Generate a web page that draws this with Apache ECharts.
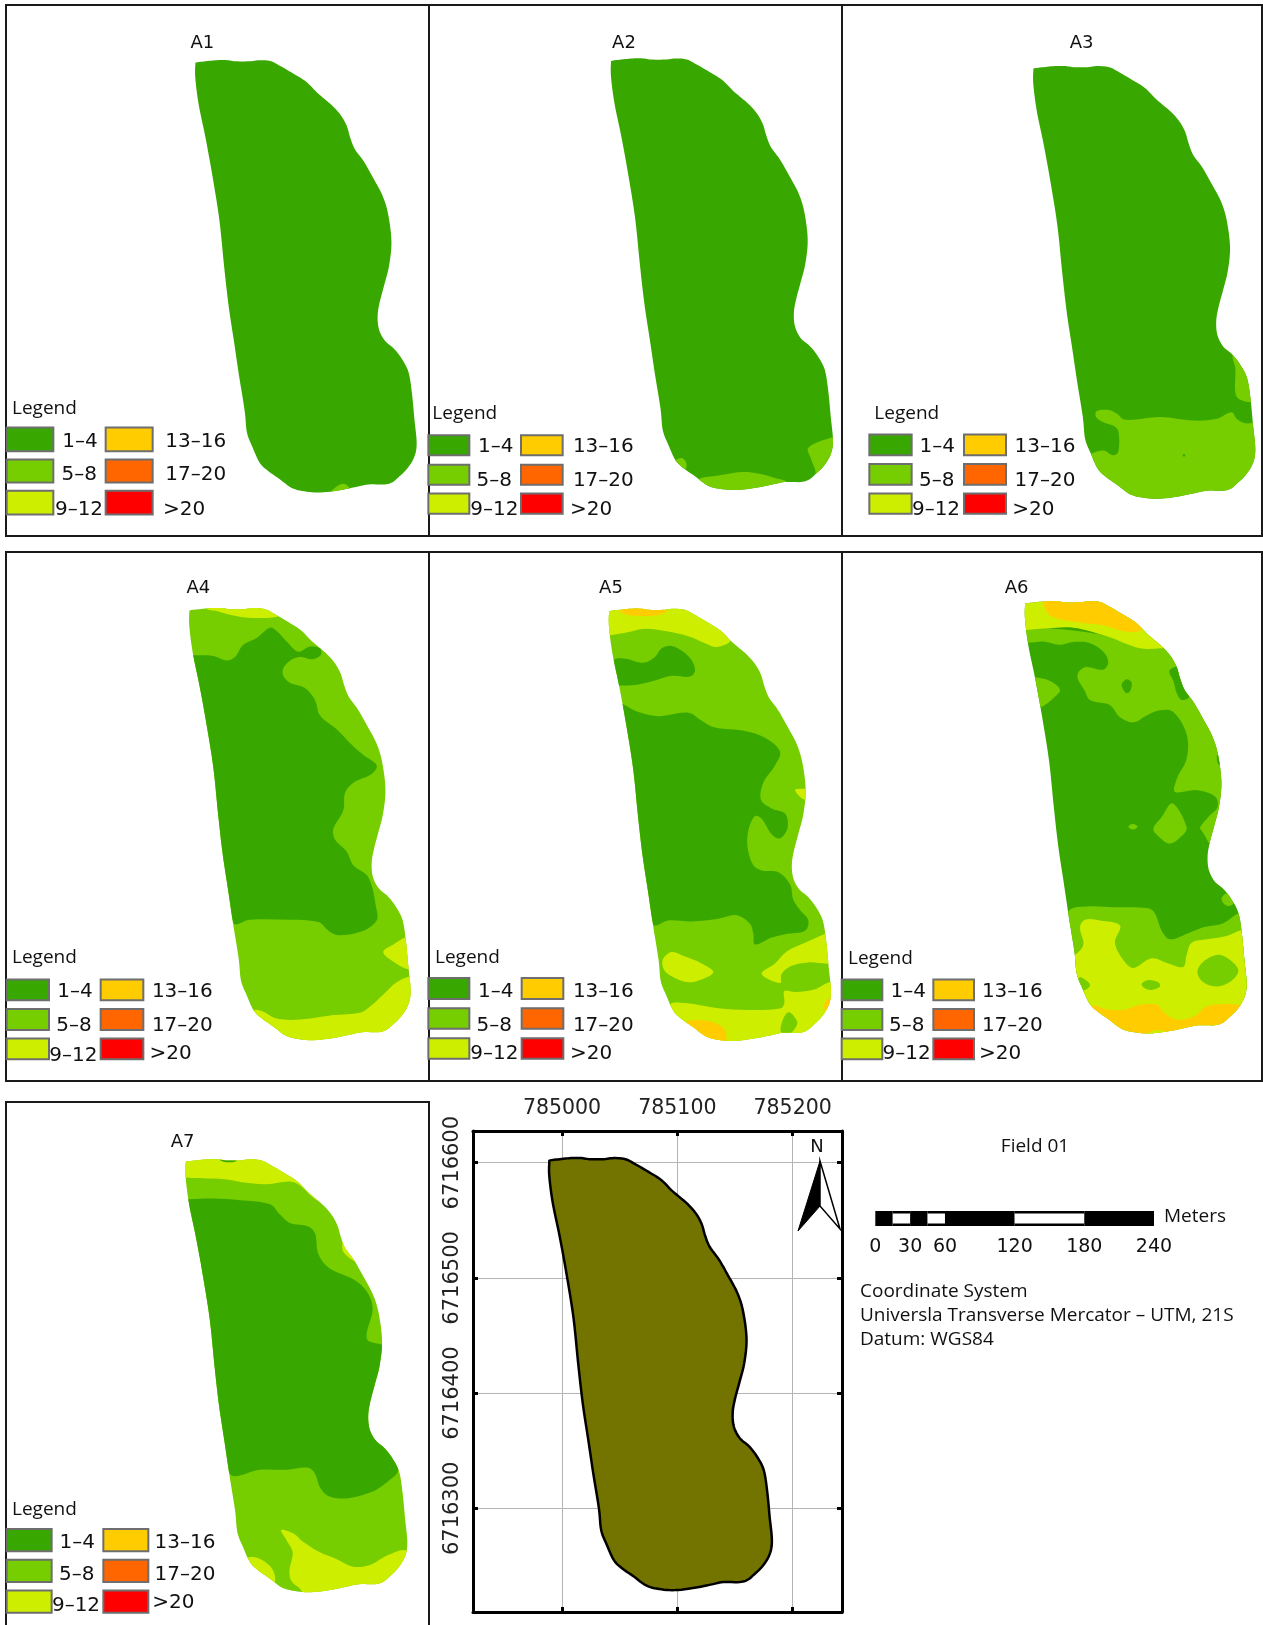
<!DOCTYPE html>
<html><head><meta charset="utf-8">
<style>html,body{margin:0;padding:0;background:#fff}#c{width:1263px;height:1625px}</style>
<script src="https://cdn.jsdelivr.net/npm/echarts@6/dist/echarts.min.js"></script>
</head><body><div id="c"></div>
<script>
// ---------- categories ----------
const BANDS = ['1–4','5–8','9–12','13–16','17–20','>20'];
const BAND_COLORS = ['#38A800','#76CD00','#CEEE00','#FFCC00','#FF6600','#FF0000'];
const REF_FILL = '#737300';
const EAST_TICKS = [785000,785100,785200];
const NORTH_TICKS = [6716300,6716400,6716500,6716600];
const SCALE_TICKS = [0,30,60,120,180,240];
const SCALE_FROM = [0,15,30,45,60,120,180];
const SCALE_TO   = [15,30,45,60,120,180,240];
// ---------- field boundary (UTM 21S, metres) ----------
const FIELD_E = [784989,784990,784998,785008,785017,785024,785036,785045,785055,785063,785075,785086,785095,785102,785109,785116,785121,785124,785128,785136,785144,785152,785157,785160,785158,785154,785150,785148,785149,785154,785162,785169,785175,785178,785180,785182,785180,785174,785167,785161,785154,785140,785130,785115,785098,785084,785073,785062,785052,785045,785039,785034,785032,785027,785023,785018,785014,785010,785004,784998,784992,784989];
const FIELD_N = [6716600,6716602,6716603,6716604,6716604,6716603,6716603,6716604,6716603,6716599,6716592,6716585,6716576,6716570,6716564,6716556,6716547,6716537,6716527,6716516,6716502,6716487,6716471,6716447,6716426,6716410,6716395,6716383,6716371,6716361,6716354,6716345,6716333,6716314,6716293,6716272,6716260,6716250,6716243,6716238,6716236,6716236,6716234,6716231,6716229,6716230,6716233,6716241,6716248,6716255,6716268,6716281,6716300,6716331,6716358,6716391,6716426,6716465,6716503,6716536,6716565,6716588];
// ---------- zones per map: [band index, x,y, x,y ...] in each map's panel units ----------
const ZONES_A1 = [[1, 985,1425,1005,1403,1030,1392,1047,1402,1050,1425]];
const ZONES_A2 = [
 [1, 820,1378,880,1368,950,1358,1000,1362,1050,1375,1085,1388,1060,1425,850,1435,805,1395],
 [1, 1150,1288,1225,1258,1245,1260,1245,1340,1175,1365,1170,1350,1158,1320],
 [1, 752,1325,770,1318,783,1330,782,1350,765,1352,740,1340]];
const ZONES_A3 = [
 [1, 740,1315,755,1305,790,1296,820,1310,835,1300,835,1240,820,1225,790,1215,768,1200,770,1183,810,1180,830,1190,855,1208,960,1200,1060,1210,1130,1205,1175,1186,1190,1205,1215,1218,1265,1218,1275,1320,1250,1460,950,1465,760,1420],
 [1, 1178,1020,1186,1060,1186,1130,1200,1150,1245,1152,1245,1060,1200,1005],
 [0, 1028,1310,1032,1306,1036,1310,1032,1314]];
const ZONES_A4 = [
 [0, 582,320,640,322,680,335,705,325,730,290,770,270,810,240,830,250,860,280,895,310,930,295,960,300,962,320,935,332,905,325,880,330,855,350,848,375,870,400,915,415,945,450,960,495,1010,535,1050,575,1090,610,1130,640,1115,665,1060,690,1035,720,1030,770,1000,825,1005,855,1040,890,1060,930,1105,965,1130,1060,1130,1090,1090,1120,1015,1133,985,1120,955,1095,860,1088,750,1088,700,1097,640,800,600,500,560,320],
 [2, 620,185,650,192,700,205,760,212,838,205,800,170,640,165],
 [2, 1215,1140,1180,1160,1150,1180,1165,1200,1230,1232,1255,1200,1245,1130],
 [2, 765,1350,790,1355,830,1375,900,1378,1000,1365,1080,1358,1110,1340,1150,1305,1190,1270,1232,1252,1255,1260,1240,1430,950,1465,770,1420,745,1370]];
const ZONES_A5 = [
 [2, 555,262,600,255,660,243,720,250,790,265,840,285,875,296,915,278,880,240,800,165,545,165,535,262],
 [3, 585,193,610,180,660,180,725,190,700,203,620,205],
 [0, 565,335,600,330,655,342,690,325,710,300,740,293,775,310,800,335,810,365,795,382,740,380,695,392,640,405,585,408,540,400],
 [0, 595,463,640,485,700,497,790,487,830,510,870,530,960,540,1020,560,1065,600,1050,640,1015,690,1008,740,1040,765,1080,780,1088,820,1065,852,1040,840,1010,795,990,787,970,830,968,880,985,930,1010,945,1060,950,1095,985,1105,1030,1125,1060,1150,1090,1140,1120,1080,1130,1040,1140,990,1160,985,1130,975,1100,935,1075,880,1085,800,1093,730,1090,685,1102,640,900,575,460],
 [2, 1198,1130,1140,1155,1085,1180,1050,1215,1010,1245,1065,1272,1070,1245,1100,1222,1150,1212,1215,1215,1245,1200,1235,1120],
 [2, 1078,1295,1110,1298,1170,1290,1218,1270,1245,1300,1240,1460,900,1465,745,1410,735,1335,780,1330,880,1345,970,1350,1068,1345,1078,1330],
 [1, 1068,1415,1075,1375,1092,1357,1115,1380,1115,1395,1095,1418],
 [3, 785,1385,830,1380,875,1390,900,1410,900,1450,850,1445,800,1410],
 [3, 1198,1335,1208,1318,1228,1320,1212,1350,1200,1350],
 [2, 713,1205,740,1182,780,1195,830,1215,865,1240,830,1262,790,1270,745,1255,718,1235],
 [2, 1110,712,1125,708,1155,712,1155,735,1135,738]];
const ZONES_A6 = [
 [1, 550,245,700,248,800,265,900,298,968,294,1035,340,1075,430,1130,520,1170,610,1180,690,1170,770,1125,880,1085,830,1080,820,1110,785,1133,760,1125,730,1070,712,1005,717,1010,680,1040,620,1040,550,1000,485,960,480,920,495,880,515,840,500,810,465,750,450,735,425,712,380,735,355,790,362,805,340,790,310,750,285,700,282,660,290,610,280,565,283,535,270],
 [0, 845,405,860,390,875,400,870,425,860,430,850,420],
 [0, 988,365,1015,355,1030,400,1048,440,1025,450,1010,430,1000,395],
 [0, 1132,610,1148,620,1148,640,1134,635],
 [1, 590,385,630,395,660,420,640,445,605,470,575,475,565,385],
 [1, 997,750,1040,820,1025,845,990,867,960,850,940,825,965,790],
 [1, 865,818,878,810,893,818,878,826],
 [1, 685,1065,740,1050,820,1052,925,1055,945,1070,965,1120,990,1145,1050,1125,1090,1110,1150,1098,1193,1070,1225,1060,1240,1300,700,1300,665,1200],
 [1, 1145,1025,1160,1012,1180,1040,1165,1048,1150,1040],
 [2, 545,240,600,243,700,240,800,265,900,300,960,300,975,295,900,190,800,145,535,145],
 [3, 615,160,618,190,640,210,720,225,800,235,860,252,905,245,870,205,800,155],
 [2, 705,1190,730,1160,720,1110,735,1088,780,1090,840,1105,825,1155,850,1205,880,1228,935,1200,985,1215,1030,1225,1040,1190,1055,1155,1100,1145,1160,1135,1205,1118,1245,1115,1245,1320,1200,1455,800,1455,725,1300,705,1260,685,1190],
 [1, 1072,1240,1090,1210,1135,1190,1170,1205,1195,1235,1175,1265,1130,1282,1090,1270],
 [1, 905,1275,925,1263,955,1270,960,1282,935,1292,915,1288],
 [1, 718,1255,735,1262,750,1278,735,1292,705,1292],
 [3, 755,1338,800,1348,850,1350,900,1335,950,1335,975,1360,1010,1378,1060,1370,1100,1340,1150,1333,1200,1335,1255,1340,1200,1455,800,1455,735,1370],
 [2, 920,1420,945,1410,975,1412,950,1430]];
const ZONES_A7 = [
 [0, 565,320,640,318,720,323,810,335,840,365,870,390,925,400,945,420,955,480,985,520,1060,555,1100,590,1118,640,1100,715,1105,735,1155,752,1175,800,1155,900,1135,1000,1195,1110,1160,1150,1110,1180,1040,1197,985,1190,960,1165,945,1125,925,1107,860,1113,780,1113,690,1125,640,900,600,500,540,320],
 [2, 545,250,600,258,680,262,740,272,800,276,870,268,900,280,945,320,965,320,880,225,800,185,540,185],
 [0, 660,205,680,212,710,208,690,200],
 [2, 1030,445,1068,502,1045,490,1028,470],
 [2, 843,1290,880,1300,910,1325,960,1355,1010,1375,1060,1397,1110,1392,1160,1365,1220,1350,1245,1400,1180,1490,930,1495,900,1462,875,1440,868,1410,878,1355,860,1320],
 [2, 745,1370,775,1372,810,1395,825,1425,820,1450,760,1435,725,1380]];
// ---------- layout ----------
const FW = 3, SERIF = 'DejaVu Sans', HUM = 'Open Sans';
const MAPS = [
 {name:'A1',zones:ZONES_A1,base:0,ox:0,oy:0,w:430,h:545,box:[586,1250,173,1417],title:[607,120],lg:{x:36,y:1172,c1:[20,160],c2:[317,458],r:[[1230,1298],[1322,1388],[1412,1480]],t:[[240,1265],[238,1360],[237,1460],[587,1265],[587,1360],[552,1460]]}},
 {name:'A2',zones:ZONES_A2,base:0,ox:425,oy:0,w:430,h:545,box:[558,1224,168,1410],title:[597,120],lg:{x:22,y:1187,c1:[10,133],c2:[288,413],r:[[1252,1310],[1337,1395],[1420,1478]],t:[[212,1280],[208,1378],[208,1460],[535,1280],[535,1378],[498,1460]]}},
 {name:'A3',zones:ZONES_A3,base:0,ox:840,oy:0,w:423,h:545,box:[580,1246,190,1435],title:[725,120],lg:{x:103,y:1187,c1:[88,215],c2:[372,498],r:[[1250,1310],[1335,1395],[1420,1478]],t:[[292,1280],[290,1378],[288,1460],[615,1280],[615,1378],[580,1460]]}},
 {name:'A4',zones:ZONES_A4,base:1,ox:0,oy:545,w:430,h:540,box:[568,1232,183,1438],title:[595,120],lg:{x:36,y:1195,c1:[20,147],c2:[302,430],r:[[1262,1322],[1347,1408],[1433,1493]],t:[[225,1293],[222,1390],[220,1477],[547,1293],[547,1390],[512,1473]]}},
 {name:'A5',zones:ZONES_A5,base:1,ox:425,oy:545,w:430,h:540,box:[552,1218,185,1440],title:[558,120],lg:{x:30,y:1195,c1:[10,133],c2:[290,415],r:[[1257,1318],[1345,1405],[1432,1492]],t:[[212,1293],[208,1390],[208,1473],[535,1293],[535,1390],[498,1473]]}},
 {name:'A6',zones:ZONES_A6,base:0,ox:840,oy:545,w:423,h:540,box:[555,1220,163,1418],title:[530,120],lg:{x:24,y:1197,c1:[5,127],c2:[280,402],r:[[1262,1322],[1347,1408],[1433,1493]],t:[[205,1293],[200,1390],[200,1473],[517,1293],[517,1390],[480,1473]]}},
 {name:'A7',zones:ZONES_A7,base:1,ox:0,oy:1090,w:430,h:535,box:[557,1222,203,1472],title:[548,148],lg:{x:36,y:1227,c1:[20,155],c2:[310,445],r:[[1287,1352],[1377,1442],[1467,1532]],t:[[232,1320],[230,1415],[228,1505],[555,1320],[555,1415],[520,1498]]}}
];
const eMin=Math.min(...FIELD_E),eMax=Math.max(...FIELD_E),nMin=Math.min(...FIELD_N),nMax=Math.max(...FIELD_N);
const SM=0.35;
function outlineFor(m){return FIELD_E.map((e,i)=>[m.box[0]+(e-eMin)/(eMax-eMin)*(m.box[1]-m.box[0]), m.box[2]+(nMax-FIELD_N[i])/(nMax-nMin)*(m.box[3]-m.box[2])]);}
// closed Catmull-Rom curve through the already projected pixel points, for drawing only
function curve(P){const n=P.length,out=[];for(let i=0;i<n;i++){const a=P[(i-1+n)%n],b=P[i],c=P[(i+1)%n],d=P[(i+2)%n];
  for(let k=0;k<6;k++){const t=k/6,t2=t*t,t3=t2*t;
    out.push([0.5*(2*b[0]+(c[0]-a[0])*t+(2*a[0]-5*b[0]+4*c[0]-d[0])*t2+(3*b[0]-a[0]-3*c[0]+d[0])*t3),
              0.5*(2*b[1]+(c[1]-a[1])*t+(2*a[1]-5*b[1]+4*c[1]-d[1])*t2+(3*b[1]-a[1]-3*c[1]+d[1])*t3)]);}}
  return out;}

const grids=[],xAxes=[],yAxes=[],series=[];
const hiddenAxis=(min,max,inv)=>({type:'value',min,max,inverse:!!inv,show:false,scale:true,splitLine:{show:false}});
MAPS.forEach((m,gi)=>{
  grids.push({left:m.ox,top:m.oy,width:m.w,height:m.h});
  xAxes.push(Object.assign(hiddenAxis(0,m.w*FW),{gridIndex:gi}));
  yAxes.push(Object.assign(hiddenAxis(0,1568,true),{gridIndex:gi}));
  const outline=outlineFor(m);
  const items=[{k:'base',value:[0,0]}].concat(m.zones.map(z=>({k:'zone',z,value:[z[1],z[2]]})));
  series.push({type:'custom',name:m.name,xAxisIndex:gi,yAxisIndex:gi,coordinateSystem:'cartesian2d',clip:false,silent:true,
    data:items.map(d=>d.value),
    renderItem:(p,api)=>{
      const d=items[p.dataIndex];
      const op=curve(outline.map(q=>api.coord(q)));
      if(d.k==='base') return {type:'polygon',shape:{points:op},style:{fill:BAND_COLORS[m.base]}};
      const pts=[];for(let i=1;i<d.z.length;i+=2)pts.push(api.coord([d.z[i],d.z[i+1]]));
      return {type:'polygon',shape:{points:pts,smooth:SM},style:{fill:BAND_COLORS[d.z[0]]},clipPath:{type:'polygon',shape:{points:op}}};
    }});
  // legend swatches and labels
  const lg=m.lg;
  series.push({type:'custom',name:m.name+' legend',xAxisIndex:gi,yAxisIndex:gi,coordinateSystem:'cartesian2d',clip:false,silent:true,z:3,
    data:BANDS.map((b,i)=>[(i<3?lg.c1:lg.c2)[0],lg.r[i%3][0]]),
    renderItem:(p,api)=>{
      const i=p.dataIndex,c=i<3?lg.c1:lg.c2,r=lg.r[i%3];
      const a=api.coord([c[0],r[0]]),b=api.coord([c[1],r[1]]),t=api.coord(lg.t[i]);
      const ch=[{type:'rect',shape:{x:a[0],y:a[1],width:b[0]-a[0],height:b[1]-a[1]},style:{fill:BAND_COLORS[i],stroke:'#6e6e6e',lineWidth:2}},
        {type:'text',style:{text:BANDS[i],x:t[0],y:t[1]+2,font:'20px "'+SERIF+'"',fill:'#111',textAlign:'center',textVerticalAlign:'middle'}}];
      if(i===0){const l=api.coord([lg.x,lg.y]),h=api.coord(m.title);
        ch.push({type:'text',style:{text:'Legend',x:l[0],y:l[1]+1,font:'19px "'+HUM+'"',fill:'#111',textAlign:'left',textVerticalAlign:'middle'}});
        ch.push({type:'text',style:{text:m.name,x:h[0],y:h[1]+2,font:'18px "'+SERIF+'"',fill:'#111',textAlign:'center',textVerticalAlign:'middle'}});}
      return {type:'group',children:ch};
    }});
});
// reference map in UTM
const gR=grids.length;
grids.push({left:473,top:1131,width:369,height:481});
const tickStyle={show:true,inside:true,length:5,lineStyle:{color:'#000',width:3}};
const lineStyle={show:true,onZero:false,lineStyle:{color:'#000',width:3}};
const xMin=784922.8,xMax=785242.8,yMin=6716210,yMax=6716627.5;
xAxes.push({type:'value',gridIndex:gR,position:'top',min:xMin,max:xMax,scale:true,axisLine:lineStyle,
  axisTick:Object.assign({customValues:EAST_TICKS},tickStyle),
  axisLabel:{customValues:EAST_TICKS,margin:12,formatter:v=>String(v),color:'#222',fontFamily:SERIF,fontSize:20.5},
  splitLine:{show:true,lineStyle:{color:'#b4b4b4',width:1}}});
xAxes.push({type:'value',gridIndex:gR,position:'bottom',min:xMin,max:xMax,scale:true,axisLine:lineStyle,
  axisTick:Object.assign({customValues:EAST_TICKS},tickStyle),axisLabel:{show:false},splitLine:{show:false}});
yAxes.push({type:'value',gridIndex:gR,position:'left',min:yMin,max:yMax,scale:true,axisLine:lineStyle,
  axisTick:Object.assign({customValues:NORTH_TICKS},tickStyle),
  axisLabel:{customValues:NORTH_TICKS,margin:20,rotate:90,formatter:v=>String(v),verticalAlign:'middle',align:'center',color:'#222',fontFamily:SERIF,fontSize:21},
  splitLine:{show:true,lineStyle:{color:'#b4b4b4',width:1}}});
yAxes.push({type:'value',gridIndex:gR,position:'right',min:yMin,max:yMax,scale:true,axisLine:lineStyle,
  axisTick:Object.assign({customValues:NORTH_TICKS},tickStyle),axisLabel:{show:false},splitLine:{show:false}});
series.push({type:'custom',name:'Field 01',xAxisIndex:xAxes.length-2,yAxisIndex:yAxes.length-2,coordinateSystem:'cartesian2d',clip:false,silent:true,z:3,
  data:[[FIELD_E[0],FIELD_N[0]]],
  renderItem:(p,api)=>({type:'polygon',shape:{points:curve(FIELD_E.map((e,i)=>api.coord([e,FIELD_N[i]])))},style:{fill:REF_FILL,stroke:'#000',lineWidth:2.5}})});
// scale bar in metres
const gS=grids.length;
grids.push({left:875.3,top:1211,width:278.7,height:15});
xAxes.push({type:'value',gridIndex:gS,min:0,max:240,position:'bottom',axisLine:{show:false},axisTick:{show:false},splitLine:{show:false},
  axisLabel:{customValues:SCALE_TICKS,margin:12,color:'#111',fontFamily:SERIF,fontSize:19}});
yAxes.push({type:'value',gridIndex:gS,min:0,max:1,show:false,splitLine:{show:false}});
series.push({type:'custom',name:'Scale',xAxisIndex:xAxes.length-1,yAxisIndex:yAxes.length-1,coordinateSystem:'cartesian2d',clip:false,silent:true,
  data:SCALE_FROM.map((f,i)=>[f,1]),
  renderItem:(p,api)=>{const i=p.dataIndex,a=api.coord([SCALE_FROM[i],1]),b=api.coord([SCALE_TO[i],0]);
    const ch=[{type:'rect',shape:{x:a[0],y:a[1],width:b[0]-a[0],height:b[1]-a[1]},style:{fill:'#000'}}];
    if(i%2===1) ch.push({type:'rect',shape:{x:a[0],y:a[1]+2.5,width:b[0]-a[0],height:b[1]-a[1]-5},style:{fill:'#fff'}});
    return {type:'group',children:ch};}});

const frame=(x,y,w,h)=>({type:'rect',z:-1,silent:true,shape:{x,y,width:w,height:h},style:{fill:'none',stroke:'#1a1a1a',lineWidth:2}});
const txt=(text,x,y,align,size)=>({type:'text',silent:true,x,y,style:{text,font:size+'px "'+HUM+'"',fill:'#111',textAlign:align,textVerticalAlign:'middle'}});
const graphic=[
  frame(6,5,423,531),frame(429,5,413,531),frame(842,5,420,531),
  frame(6,552,423,529),frame(429,552,413,529),frame(842,552,420,529),
  frame(6,1102,423,560),
  {type:'polygon',silent:true,z:10,shape:{points:[[820,1161],[798,1231],[820,1206]]},style:{fill:'#000',stroke:'#000',lineWidth:1}},
  {type:'polygon',silent:true,z:10,shape:{points:[[820,1161],[840,1229],[820,1206]]},style:{fill:'#fff',stroke:'#000',lineWidth:1.5}},
  {type:'text',silent:true,z:10,x:817,y:1147,style:{text:'N',font:'18px "'+SERIF+'"',fill:'#111',textAlign:'center',textVerticalAlign:'middle'}},
  txt('Field 01',1035,1147,'center',19),
  txt('Meters',1164,1217,'left',19),
  txt('Coordinate System',860,1292,'left',19),
  txt('Universla Transverse Mercator – UTM, 21S',860,1316,'left',19),
  txt('Datum: WGS84',860,1340,'left',19)
];
const chart=echarts.init(document.getElementById('c'),null,{renderer:'canvas'});
chart.setOption({animation:false,backgroundColor:'#fff',grid:grids,xAxis:xAxes,yAxis:yAxes,series,graphic:{elements:graphic}});
</script></body></html>
